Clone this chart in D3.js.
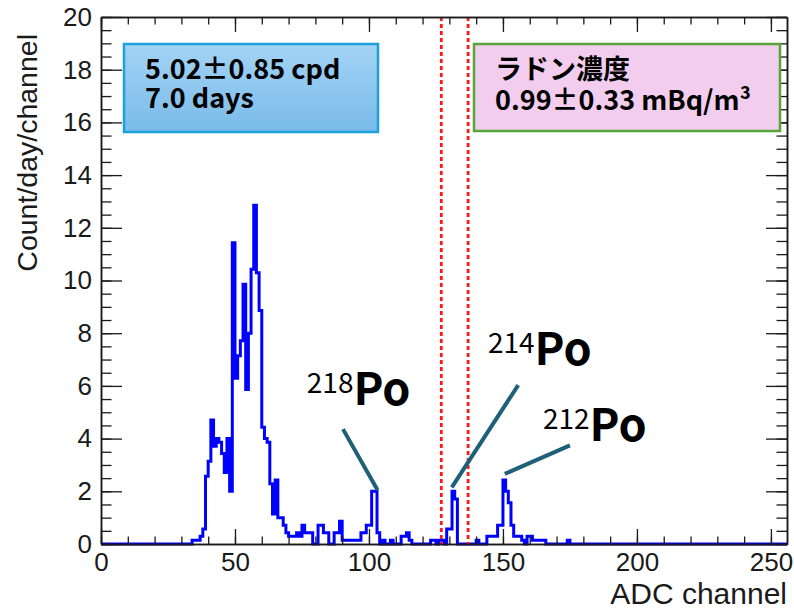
<!DOCTYPE html>
<html>
<head>
<meta charset="utf-8">
<script src="https://cdn.jsdelivr.net/npm/d3@7"></script>
<style>
  html, body { margin: 0; padding: 0; background: #fff; }
  svg { display: block; }
</style>
</head>
<body>
<svg id="chart" width="794" height="612"></svg>
<script>
// ADC spectrum of the radon detector, count/day per channel.
// Channels below FIRST_CHANNEL and above the last listed one are empty.
const N_CHANNELS = 256;
const FIRST_CHANNEL = 33;
const countsPerDay = [
  0, 0.14, 0.14, 0.14, 0.29, 0.57, 2.57, 3.14, 4.71, 3.71,        // 33-42
  4.0, 3.86, 3.43, 2.71, 4.0, 2.0, 11.43, 6.29, 7.14, 7.71,       // 43-52
  9.86, 5.86, 8.0, 10.43, 12.86, 10.29, 8.86, 4.43, 4.0, 3.86,    // 53-62
  2.29, 1.14, 2.43, 1.0, 1.0, 0.71, 0.43, 0.29, 0.29, 0.29,       // 63-72
  0.43, 0.29, 0.71, 0.43, 0.43, 0.43, 0, 0, 0.71, 0.71,           // 73-82
  0.43, 0.43, 0, 0, 0.43, 0.43, 0.86, 0.14, 0.14, 0.14,           // 83-92
  0.14, 0.14, 0.14, 0.14, 0.43, 0.43, 0.71, 0.71, 2.0, 2.0,       // 93-102
  0.43, 0, 0.14, 0, 0, 0.14, 0, 0, 0, 0.29,                       // 103-112
  0.29, 0.43, 0.14, 0, 0, 0, 0, 0, 0, 0,                          // 113-122
  0.14, 0.14, 0, 0.14, 0.14, 0, 0.57, 0.57, 2.0, 1.71,            // 123-132
  0, 0, 0, 0, 0, 0, 0, 0.14, 0, 0,                                // 133-142
  0, 0.29, 0.29, 0.29, 0.29, 0.71, 0.71, 2.43, 2.0, 1.57,         // 143-152
  0.71, 0.29, 0.29, 0.29, 0.14, 0, 0.29, 0.29, 0.14, 0.14,        // 153-162
  0.14, 0.14, 0.14, 0, 0, 0, 0, 0, 0, 0,                          // 163-172
  0, 0.14                                                         // 173-174
];

const xMajorTicks = [0, 50, 100, 150, 200, 250];
const xMinorTicks = d3.range(0, 257, 10);
const yMajorTicks = [0, 2, 4, 6, 8, 10, 12, 14, 16, 18, 20];
const yMinorTicks = d3.range(0, 20.01, 0.5);

// 214Po counting window (channels)
const roiEdges = [127, 137];

const rateLines = ['5.02±0.85 cpd', '7.0 days'];
const radonLines = ['ラドン濃度', '0.99±0.33 mBq/m³'];

// peak labels: anchor of the text and ends of the leader line, in (channel, count/day)
const peakMasses = ['218', '214', '212'];
const peakLabelAt = [[76.8, 5.28], [144.4, 6.79], [164.9, 3.91]];
const peakLineFrom = [[90.3, 4.36], [155.7, 6.03], [175.0, 3.74]];
const peakLineTo = [[103.2, 2.05], [130.9, 2.15], [150.7, 2.66]];

// layout
const FRAME_LEFT_PX = 101;
const FRAME_RIGHT_PX = 787;
const FRAME_TOP_PX = 17;
const FRAME_BOTTOM_PX = 544;

const X_MAJOR_TICK_PX = 15;
const X_MINOR_TICK_PX = 7.5;
const Y_MAJOR_TICK_PX = 21;
const Y_MINOR_TICK_PX = 10.5;

const AXIS_FONT = '"Liberation Sans", Arial, Helvetica, sans-serif';
const JP_FONT = '"Noto Sans CJK JP", "Noto Sans", sans-serif';
const AXIS_COLOR = '#1a1a1a';

const svg = d3.select('#chart');

const x = d3.scaleLinear()
  .domain([0, N_CHANNELS])
  .range([FRAME_LEFT_PX, FRAME_RIGHT_PX]);

const y = d3.scaleLinear()
  .domain([0, 20])
  .range([FRAME_BOTTOM_PX, FRAME_TOP_PX]);

const channelValues = d3.range(N_CHANNELS).map(ch => {
  const k = ch - FIRST_CHANNEL;
  return (k >= 0 && k < countsPerDay.length) ? countsPerDay[k] : 0;
});

const defs = svg.append('defs');

defs.append('clipPath')
    .attr('id', 'frameClip')
  .append('rect')
    .attr('x', FRAME_LEFT_PX)
    .attr('y', FRAME_TOP_PX - 2)
    .attr('width', FRAME_RIGHT_PX - FRAME_LEFT_PX)
    .attr('height', FRAME_BOTTOM_PX - FRAME_TOP_PX + 4);

const grad = defs.append('linearGradient')
  .attr('id', 'blueFill')
  .attr('x1', 0).attr('y1', 0)
  .attr('x2', 0).attr('y2', 1);
grad.append('stop').attr('offset', 0).attr('stop-color', '#a3d3f5');
grad.append('stop').attr('offset', 1).attr('stop-color', '#79bbe9');

// histogram outline
const steps = channelValues.map((v, i) => [i, v]);
steps.push([N_CHANNELS, channelValues[N_CHANNELS - 1]]);

const stepLine = d3.line()
  .x(d => x(d[0]))
  .y(d => y(d[1]))
  .curve(d3.curveStepAfter);

svg.append('path')
  .attr('clip-path', 'url(#frameClip)')
  .attr('d', stepLine(steps))
  .attr('fill', 'none')
  .attr('stroke', '#0000ff')
  .attr('stroke-width', 3)
  .attr('stroke-linejoin', 'miter');

// counting window
svg.selectAll('line.roi')
  .data(roiEdges)
  .join('line')
    .attr('class', 'roi')
    .attr('x1', d => x(d))
    .attr('x2', d => x(d))
    .attr('y1', y(20))
    .attr('y2', y(0))
    .attr('stroke', '#ff1a1a')
    .attr('stroke-width', 2.8)
    .attr('stroke-dasharray', '4,3');

// axes: ticks inside the frame on all four sides
function styleAxis(g) {
  g.attr('font-family', AXIS_FONT)
    .attr('font-size', 26)
    .attr('color', AXIS_COLOR);
  g.select('.domain').attr('stroke-width', 1.5);
  g.selectAll('.tick line').attr('stroke-width', 1.3);
}

svg.append('g')
  .attr('transform', `translate(0,${FRAME_BOTTOM_PX})`)
  .call(d3.axisBottom(x).tickValues(xMinorTicks).tickSize(-X_MINOR_TICK_PX).tickSizeOuter(0).tickFormat(''))
  .call(styleAxis);

svg.append('g')
  .attr('transform', `translate(0,${FRAME_BOTTOM_PX})`)
  .call(d3.axisBottom(x).tickValues(xMajorTicks).tickSize(-X_MAJOR_TICK_PX).tickSizeOuter(0).tickPadding(9).tickFormat(d3.format('d')))
  .call(styleAxis);

svg.append('g')
  .attr('transform', `translate(0,${FRAME_TOP_PX})`)
  .call(d3.axisTop(x).tickValues(xMinorTicks).tickSize(-X_MINOR_TICK_PX).tickSizeOuter(0).tickFormat(''))
  .call(styleAxis);

svg.append('g')
  .attr('transform', `translate(0,${FRAME_TOP_PX})`)
  .call(d3.axisTop(x).tickValues(xMajorTicks).tickSize(-X_MAJOR_TICK_PX).tickSizeOuter(0).tickFormat(''))
  .call(styleAxis);

svg.append('g')
  .attr('transform', `translate(${FRAME_LEFT_PX},0)`)
  .call(d3.axisLeft(y).tickValues(yMinorTicks).tickSize(-Y_MINOR_TICK_PX).tickSizeOuter(0).tickFormat(''))
  .call(styleAxis);

svg.append('g')
  .attr('transform', `translate(${FRAME_LEFT_PX},0)`)
  .call(d3.axisLeft(y).tickValues(yMajorTicks).tickSize(-Y_MAJOR_TICK_PX).tickSizeOuter(0).tickPadding(9).tickFormat(d3.format('d')))
  .call(styleAxis);

svg.append('g')
  .attr('transform', `translate(${FRAME_RIGHT_PX},0)`)
  .call(d3.axisRight(y).tickValues(yMinorTicks).tickSize(-Y_MINOR_TICK_PX).tickSizeOuter(0).tickFormat(''))
  .call(styleAxis);

svg.append('g')
  .attr('transform', `translate(${FRAME_RIGHT_PX},0)`)
  .call(d3.axisRight(y).tickValues(yMajorTicks).tickSize(-Y_MAJOR_TICK_PX).tickSizeOuter(0).tickFormat(''))
  .call(styleAxis);

// axis titles
svg.append('text')
  .attr('x', FRAME_RIGHT_PX)
  .attr('y', 604)
  .attr('text-anchor', 'end')
  .attr('font-family', AXIS_FONT)
  .attr('font-size', 30)
  .attr('fill', AXIS_COLOR)
  .text('ADC channel');

svg.append('text')
  .attr('transform', 'translate(37,34) rotate(-90)')
  .attr('text-anchor', 'end')
  .attr('font-family', AXIS_FONT)
  .attr('font-size', 28.5)
  .attr('fill', AXIS_COLOR)
  .text('Count/day/channel');

// info boxes, both lines of a box in one text element
function renderBox(lines, box) {
  svg.append('rect')
    .attr('x', box.x)
    .attr('y', box.y)
    .attr('width', box.w)
    .attr('height', box.h)
    .attr('fill', box.fill)
    .attr('stroke', box.stroke)
    .attr('stroke-width', 2.5);

  svg.append('text')
    .attr('x', box.x + box.padLeft)
    .attr('y', box.y + box.firstBaseline)
    .attr('font-family', JP_FONT)
    .attr('font-weight', 700)
    .attr('font-size', 27)
    .attr('fill', '#000')
    .selectAll('tspan')
    .data(lines)
    .join('tspan')
      .attr('x', box.x + box.padLeft)
      .attr('dy', (d, i) => i === 0 ? 0 : box.lineStep)
      .text(d => d);
}

renderBox(rateLines, {
  x: 124, y: 44, w: 254, h: 88,
  fill: 'url(#blueFill)', stroke: '#1ea0dc',
  padLeft: 21, firstBaseline: 35, lineStep: 29
});

renderBox(radonLines, {
  x: 474, y: 44, w: 306, h: 87,
  fill: '#f2cdee', stroke: '#57a43a',
  padLeft: 21, firstBaseline: 35, lineStep: 31
});

// isotope labels with leader lines
svg.append('g')
  .selectAll('line')
  .data(peakMasses)
  .join('line')
    .attr('x1', (d, i) => x(peakLineFrom[i][0]))
    .attr('y1', (d, i) => y(peakLineFrom[i][1]))
    .attr('x2', (d, i) => x(peakLineTo[i][0]))
    .attr('y2', (d, i) => y(peakLineTo[i][1]))
    .attr('stroke', '#1f6079')
    .attr('stroke-width', 4);

const peakLabels = svg.append('g')
  .selectAll('text')
  .data(peakMasses)
  .join('text')
    .attr('x', (d, i) => x(peakLabelAt[i][0]))
    .attr('y', (d, i) => y(peakLabelAt[i][1]))
    .attr('font-family', JP_FONT)
    .attr('fill', '#000');

peakLabels.append('tspan')
  .attr('font-size', 28)
  .attr('dy', -12)
  .text(d => d);

peakLabels.append('tspan')
  .attr('font-size', 45)
  .attr('font-weight', 700)
  .attr('dy', 12)
  .text('Po');
</script>
</body>
</html>
